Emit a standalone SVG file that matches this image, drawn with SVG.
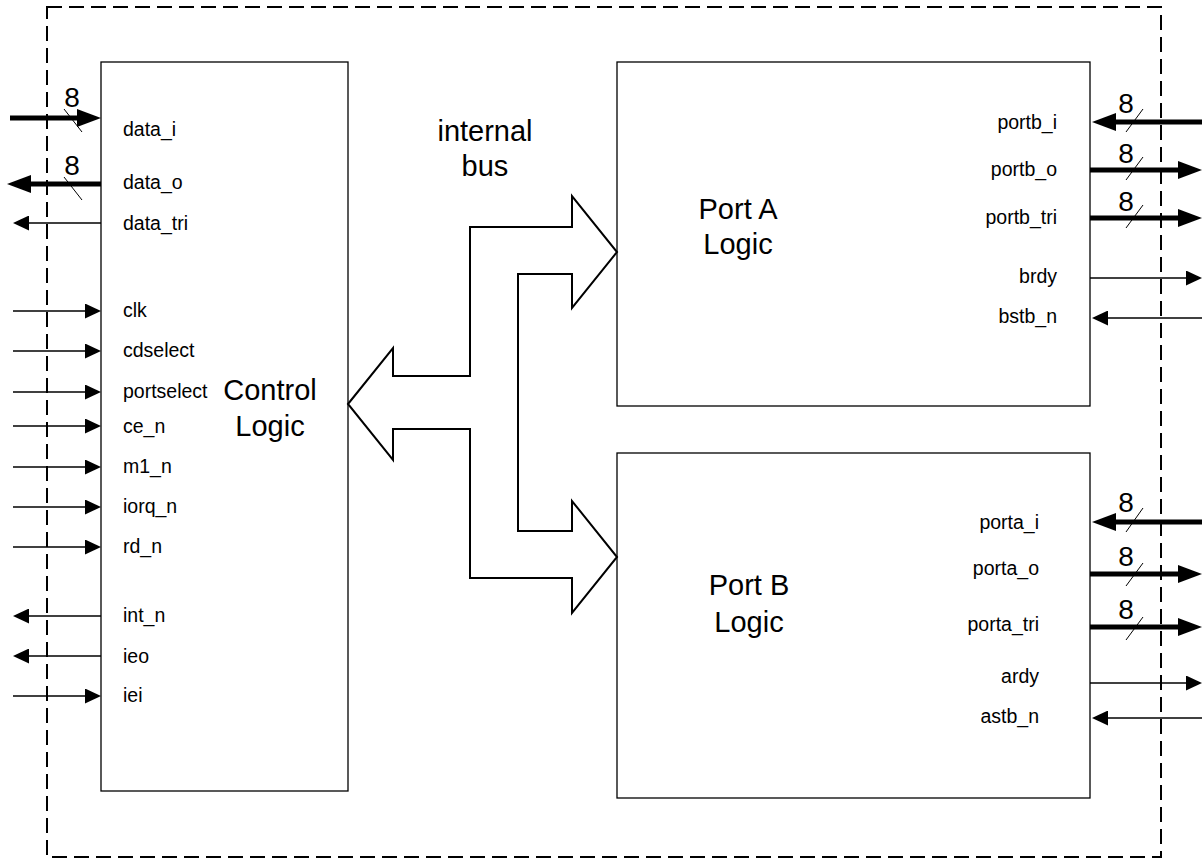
<svg xmlns="http://www.w3.org/2000/svg" width="1202" height="859" viewBox="0 0 1202 859">
<style>
text{font-family:"Liberation Sans",Arial,sans-serif;fill:#000}
.big{font-size:29px;text-anchor:middle}
.sig{font-size:19.5px}
.sigr{font-size:19.5px;text-anchor:end}
.eight{font-size:28px;text-anchor:middle}
.box{fill:#fff;stroke:#000;stroke-width:1.3}
.thick{stroke:#000;stroke-width:5;fill:none;marker-end:url(#hk)}
.thin{stroke:#000;stroke-width:1.6;fill:none;marker-end:url(#hn)}
.tick{stroke:#000;stroke-width:1}
.bus{fill:#fff;stroke:#000;stroke-width:2;stroke-linejoin:miter}
</style>
<defs>
<marker id="hk" markerUnits="userSpaceOnUse" markerWidth="24" markerHeight="18" refX="0" refY="9" orient="auto"><path d="M0,0 L24,9 L0,18 z" fill="#000"/></marker>
<marker id="hn" markerUnits="userSpaceOnUse" markerWidth="16" markerHeight="15" refX="0" refY="7.5" orient="auto"><path d="M0,0 L16,7.5 L0,15 z" fill="#000"/></marker>
</defs>
<rect width="1202" height="859" fill="#fff"/>
<rect id="boundary" x="47" y="7" width="1114" height="850" fill="none" stroke="#000" stroke-width="2" stroke-dasharray="15 7"/>

<g id="control-logic">
<rect class="box" x="101" y="62" width="247" height="729"/>
<text class="big" x="270" y="400">Control</text>
<text class="big" x="270" y="436">Logic</text>
<text class="sig" x="123" y="136">data_i</text>
<text class="sig" x="123" y="189">data_o</text>
<text class="sig" x="123" y="230">data_tri</text>
<text class="sig" x="123" y="317">clk</text>
<text class="sig" x="123" y="357">cdselect</text>
<text class="sig" x="123" y="398">portselect</text>
<text class="sig" x="123" y="433">ce_n</text>
<text class="sig" x="123" y="473">m1_n</text>
<text class="sig" x="123" y="513">iorq_n</text>
<text class="sig" x="123" y="553">rd_n</text>
<text class="sig" x="123" y="622">int_n</text>
<text class="sig" x="123" y="663">ieo</text>
<text class="sig" x="123" y="702">iei</text>
</g>

<g id="port-a-logic">
<rect class="box" x="617" y="62" width="473" height="344"/>
<text class="big" x="738" y="219">Port A</text>
<text class="big" x="738" y="254">Logic</text>
<text class="sigr" x="1057" y="129">portb_i</text>
<text class="sigr" x="1057" y="176">portb_o</text>
<text class="sigr" x="1057" y="224">portb_tri</text>
<text class="sigr" x="1057" y="283">brdy</text>
<text class="sigr" x="1057" y="323">bstb_n</text>
</g>

<g id="port-b-logic">
<rect class="box" x="617" y="453" width="473" height="345"/>
<text class="big" x="749" y="595">Port B</text>
<text class="big" x="749" y="632">Logic</text>
<text class="sigr" x="1039" y="529">porta_i</text>
<text class="sigr" x="1039" y="575">porta_o</text>
<text class="sigr" x="1039" y="631">porta_tri</text>
<text class="sigr" x="1039" y="683">ardy</text>
<text class="sigr" x="1039" y="723">astb_n</text>
</g>

<g id="internal-bus">
<polygon class="bus" points="348,404 393,348 393,376 470,376 470,227 572,227 572,196 617,252 572,308 572,274 518,274 518,531 572,531 572,501 617,557 572,613 572,578 470,578 470,429 393,429 393,460"/>
<text class="big" x="485" y="141">internal</text>
<text class="big" x="485" y="176">bus</text>
</g>

<g id="connectors">
<!-- left side buses -->
<line class="thick" x1="10" y1="118" x2="77" y2="118"/>
<line class="tick" x1="64" y1="109" x2="82" y2="132"/>
<text class="eight" x="72" y="107">8</text>
<line class="thick" x1="101" y1="184" x2="31" y2="184"/>
<line class="tick" x1="64" y1="177" x2="82" y2="200"/>
<text class="eight" x="72" y="175">8</text>
<line class="thin" x1="101" y1="223" x2="29" y2="223"/>
<!-- left inputs -->
<line class="thin" x1="13" y1="311" x2="85" y2="311"/>
<line class="thin" x1="13" y1="351" x2="85" y2="351"/>
<line class="thin" x1="13" y1="392" x2="85" y2="392"/>
<line class="thin" x1="13" y1="426" x2="85" y2="426"/>
<line class="thin" x1="13" y1="467" x2="85" y2="467"/>
<line class="thin" x1="13" y1="507" x2="85" y2="507"/>
<line class="thin" x1="13" y1="547" x2="85" y2="547"/>
<line class="thin" x1="101" y1="616" x2="29" y2="616"/>
<line class="thin" x1="101" y1="656" x2="29" y2="656"/>
<line class="thin" x1="13" y1="696" x2="85" y2="696"/>
<!-- port A side -->
<line class="thick" x1="1202" y1="122" x2="1116" y2="122"/>
<line class="tick" x1="1126" y1="132" x2="1143" y2="109"/>
<text class="eight" x="1126" y="113">8</text>
<line class="thick" x1="1090" y1="170" x2="1178" y2="170"/>
<line class="tick" x1="1126" y1="180" x2="1143" y2="157"/>
<text class="eight" x="1126" y="163">8</text>
<line class="thick" x1="1090" y1="218" x2="1178" y2="218"/>
<line class="tick" x1="1126" y1="228" x2="1143" y2="205"/>
<text class="eight" x="1126" y="211">8</text>
<line class="thin" x1="1090" y1="278" x2="1186" y2="278"/>
<line class="thin" x1="1202" y1="318" x2="1108" y2="318"/>
<!-- port B side -->
<line class="thick" x1="1202" y1="522" x2="1116" y2="522"/>
<line class="tick" x1="1126" y1="532" x2="1143" y2="508"/>
<text class="eight" x="1126" y="512">8</text>
<line class="thick" x1="1090" y1="574" x2="1178" y2="574"/>
<line class="tick" x1="1126" y1="586" x2="1143" y2="563"/>
<text class="eight" x="1126" y="566">8</text>
<line class="thick" x1="1090" y1="627" x2="1178" y2="627"/>
<line class="tick" x1="1126" y1="640" x2="1143" y2="617"/>
<text class="eight" x="1126" y="619">8</text>
<line class="thin" x1="1090" y1="683" x2="1186" y2="683"/>
<line class="thin" x1="1202" y1="718" x2="1108" y2="718"/>
</g>
</svg>
